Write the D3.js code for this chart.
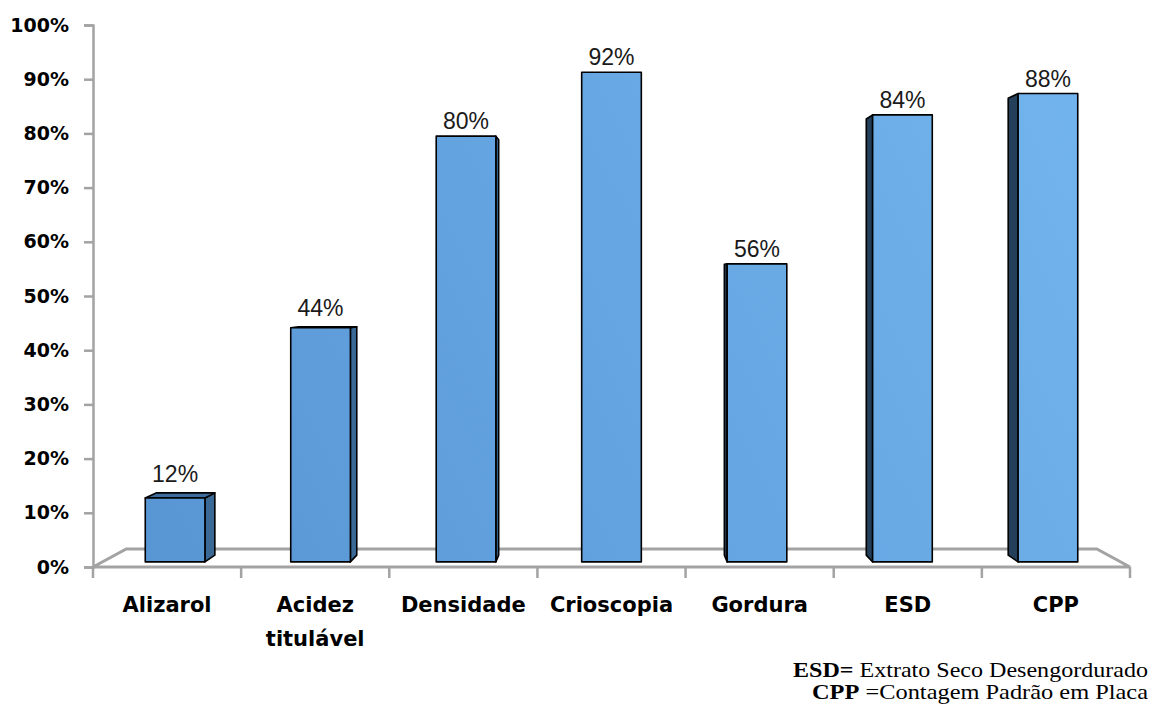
<!DOCTYPE html>
<html>
  <head>
    <meta charset="utf-8">
    <title>bar 3d</title>
    <style>
      body { margin: 0; background: #fff; }
    </style>
  </head>
  <body>
    <script src="https://cdn.jsdelivr.net/npm/d3@7/dist/d3.min.js" charset="utf-8"></script>
    <script type="text/javascript">
      var categories = ["Alizarol", "Acidez titulável", "Densidade", "Crioscopia", "Gordura", "ESD", "CPP"];
      var values = [12, 44, 80, 92, 56, 84, 88];
      var yTicks = [0, 10, 20, 30, 40, 50, 60, 70, 80, 90, 100];
      var notes = [["ESD=", " Extrato  Seco Desengordurado"], ["CPP", " =Contagem Padrão em Placa"]];

      var width = 1150;
      var height = 708;
      var svg = d3.select("body")
                  .append("svg")
                  .attr("width", width)
                  .attr("height", height);

      // front plane scales
      var x = d3.scaleBand()
                .domain(categories)
                .range([93, 1130])
                .paddingInner(0.59)
                .paddingOuter(0.295);

      var y = d3.scaleLinear()
                .domain([0, 100])
                .range([567, 25]);

      // perspective: vanishing point and depths
      var vp = { x: 612, y: 285 };
      var floorBack = 0.936;
      var barFront = 0.982;
      var barBack = 0.958;
      function proj(px, py, s) {
        return [vp.x + (px - vp.x) * s, vp.y + (py - vp.y) * s];
      }

      var grey = "#a3a3a3";

      var defs = svg.append("defs");
      var grad = defs.append("linearGradient")
                     .attr("id", "front")
                     .attr("gradientUnits", "userSpaceOnUse")
                     .attr("x1", 140).attr("y1", 560)
                     .attr("x2", 1080).attr("y2", 80);
      grad.append("stop").attr("offset", 0).attr("stop-color", "#5896d3");
      grad.append("stop").attr("offset", 1).attr("stop-color", "#72b4ee");

      // floor
      var x0 = x.range()[0], x1 = x.range()[1], y0 = y(0);
      var fl = [proj(x0, y0, 1), proj(x0, y0, floorBack), proj(x1, y0, floorBack), proj(x1, y0, 1)];
      svg.append("path")
         .attr("d", "M" + fl.join("L") + "Z")
         .attr("fill", "none")
         .attr("stroke", grey)
         .attr("stroke-width", 3);

      // x ticks at category boundaries
      var bounds = d3.range(categories.length + 1).map(function(i) { return x0 + i * x.step(); });
      svg.selectAll(".xt")
         .data(bounds)
         .enter().append("line")
         .attr("x1", function(d) { return d; })
         .attr("x2", function(d) { return d; })
         .attr("y1", y0)
         .attr("y2", y0 + 11)
         .attr("stroke", grey)
         .attr("stroke-width", 2.5);

      // bars
      var poly = function(pts) { return "M" + pts.join("L") + "Z"; };
      categories.forEach(function(c, i) {
        var bx0 = x(c), bx1 = x(c) + x.bandwidth();
        var top = y(values[i]), bot = y(0);
        var g = svg.append("g").attr("stroke", "#000").attr("stroke-width", 1.6).attr("stroke-linejoin", "round");

        if (bx1 < vp.x) {
          g.append("path")
           .attr("d", poly([proj(bx1, top, barFront), proj(bx1, top, barBack), proj(bx1, bot, barBack), proj(bx1, bot, barFront)]))
           .attr("fill", "#3b6995");
        } else if (bx0 > vp.x) {
          g.append("path")
           .attr("d", poly([proj(bx0, top, barFront), proj(bx0, top, barBack), proj(bx0, bot, barBack), proj(bx0, bot, barFront)]))
           .attr("fill", "#243f5a");
        }
        if (top > vp.y) {
          g.append("path")
           .attr("d", poly([proj(bx0, top, barFront), proj(bx0, top, barBack), proj(bx1, top, barBack), proj(bx1, top, barFront)]))
           .attr("fill", "#3d6c9c");
        }
        var f0 = proj(bx0, top, barFront), f1 = proj(bx1, bot, barFront);
        g.append("rect")
         .attr("x", f0[0]).attr("y", f0[1])
         .attr("width", f1[0] - f0[0]).attr("height", f1[1] - f0[1])
         .attr("fill", "url(#front)");

        var ly = Math.min(f0[1], proj(bx0, top, barBack)[1]) - (top > vp.y ? 11 : 7);
        svg.append("text")
           .attr("x", (f0[0] + f1[0]) / 2)
           .attr("y", ly)
           .attr("text-anchor", "middle")
           .attr("font-family", "Liberation Sans, Arial, sans-serif")
           .attr("font-size", 23)
           .attr("fill", "#1a1a1a")
           .text(values[i] + "%");
      });

      // y axis
      var yAxis = svg.append("g")
         .attr("transform", "translate(" + x0 + ",0)")
         .call(d3.axisLeft(y).tickValues(yTicks).tickSize(9).tickPadding(15).tickFormat(function(d) { return d + "%"; }));
      yAxis.select(".domain").attr("stroke", grey).attr("stroke-width", 2.5);
      yAxis.selectAll(".tick line").attr("stroke", grey).attr("stroke-width", 2.5);
      yAxis.selectAll(".tick text")
           .attr("font-family", "DejaVu Sans, sans-serif")
           .attr("font-weight", "bold")
           .attr("font-size", 19)
           .attr("fill", "#000");

      // category labels
      categories.forEach(function(c) {
        var words = c.split(" ");
        var t = svg.append("text")
                   .attr("x", x(c) + x.bandwidth() / 2)
                   .attr("y", 612)
                   .attr("text-anchor", "middle")
                   .attr("font-family", "DejaVu Sans, sans-serif")
                   .attr("font-weight", "bold")
                   .attr("font-size", 21)
                   .attr("fill", "#000");
        words.forEach(function(w, k) {
          t.append("tspan")
           .attr("x", x(c) + x.bandwidth() / 2)
           .attr("dy", k ? 34 : 0)
           .text(w);
        });
      });

      // footnote
      var noteWidths = [355, 336];
      notes.forEach(function(n, i) {
        var t = svg.append("text")
                   .attr("x", 1148)
                   .attr("y", 677 + i * 22)
                   .attr("text-anchor", "end")
                   .attr("font-family", "Liberation Serif, Times New Roman, serif")
                   .attr("font-size", 21)
                   .attr("textLength", noteWidths[i])
                   .attr("lengthAdjust", "spacingAndGlyphs")
                   .attr("fill", "#000");
        t.append("tspan").attr("font-weight", "bold").text(n[0]);
        t.append("tspan").text(n[1]);
      });
    </script>
  </body>
</html>
